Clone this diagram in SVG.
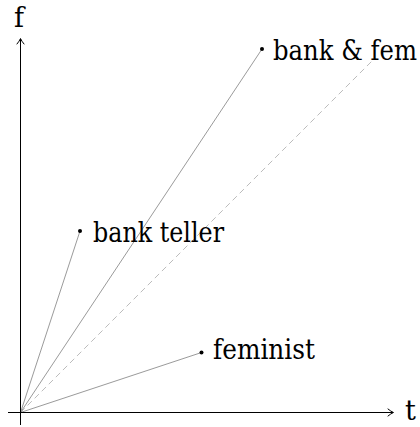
<svg xmlns="http://www.w3.org/2000/svg" width="420" height="427" viewBox="0 0 420 427">
<style>
.axis{stroke:#000;stroke-width:1;fill:none}
.ray{stroke:#808080;stroke-width:0.8;fill:none}
.dash{stroke:#aaaaaa;stroke-width:0.8;fill:none;stroke-dasharray:6 4}
.lbl{font-family:"DejaVu Serif","Liberation Serif",serif;font-size:27px;fill:#000}
.tip{stroke:#000;stroke-width:1;fill:none;stroke-linecap:round}
</style>
<rect width="420" height="427" fill="#fff"/>
<g id="connectors">
<line class="dash" x1="20.5" y1="412.5" x2="374" y2="59"/>
<line class="ray" x1="20.5" y1="412.5" x2="262" y2="49"/>
<line class="ray" x1="20.5" y1="412.5" x2="80" y2="231"/>
<line class="ray" x1="20.5" y1="412.5" x2="201.5" y2="352.5"/>
</g>
<g id="axes">
<line class="axis" x1="20.5" y1="425" x2="20.5" y2="39"/>
<path class="tip" d="M17,44 Q19.5,41 20.5,38.5 Q21.5,41 24,44"/>
<line class="axis" x1="8" y1="412.5" x2="393" y2="412.5"/>
<path class="tip" d="M388,409 Q391,411.5 393.5,412.5 Q391,413.5 388,416"/>
<text class="lbl" x="14" y="27">f</text>
<text class="lbl" x="405" y="420">t</text>
</g>
<g id="bankfem">
<circle cx="262" cy="49" r="2" fill="#000"/>
<text class="lbl" x="273" y="60" textLength="144" lengthAdjust="spacingAndGlyphs">bank &amp; fem</text>
</g>
<g id="bankteller">
<circle cx="80" cy="231" r="2" fill="#000"/>
<text class="lbl" x="93" y="242" textLength="131" lengthAdjust="spacingAndGlyphs">bank teller</text>
</g>
<g id="feminist">
<circle cx="201.5" cy="352.5" r="2" fill="#000"/>
<text class="lbl" x="213" y="359" textLength="102" lengthAdjust="spacingAndGlyphs">feminist</text>
</g>
</svg>
